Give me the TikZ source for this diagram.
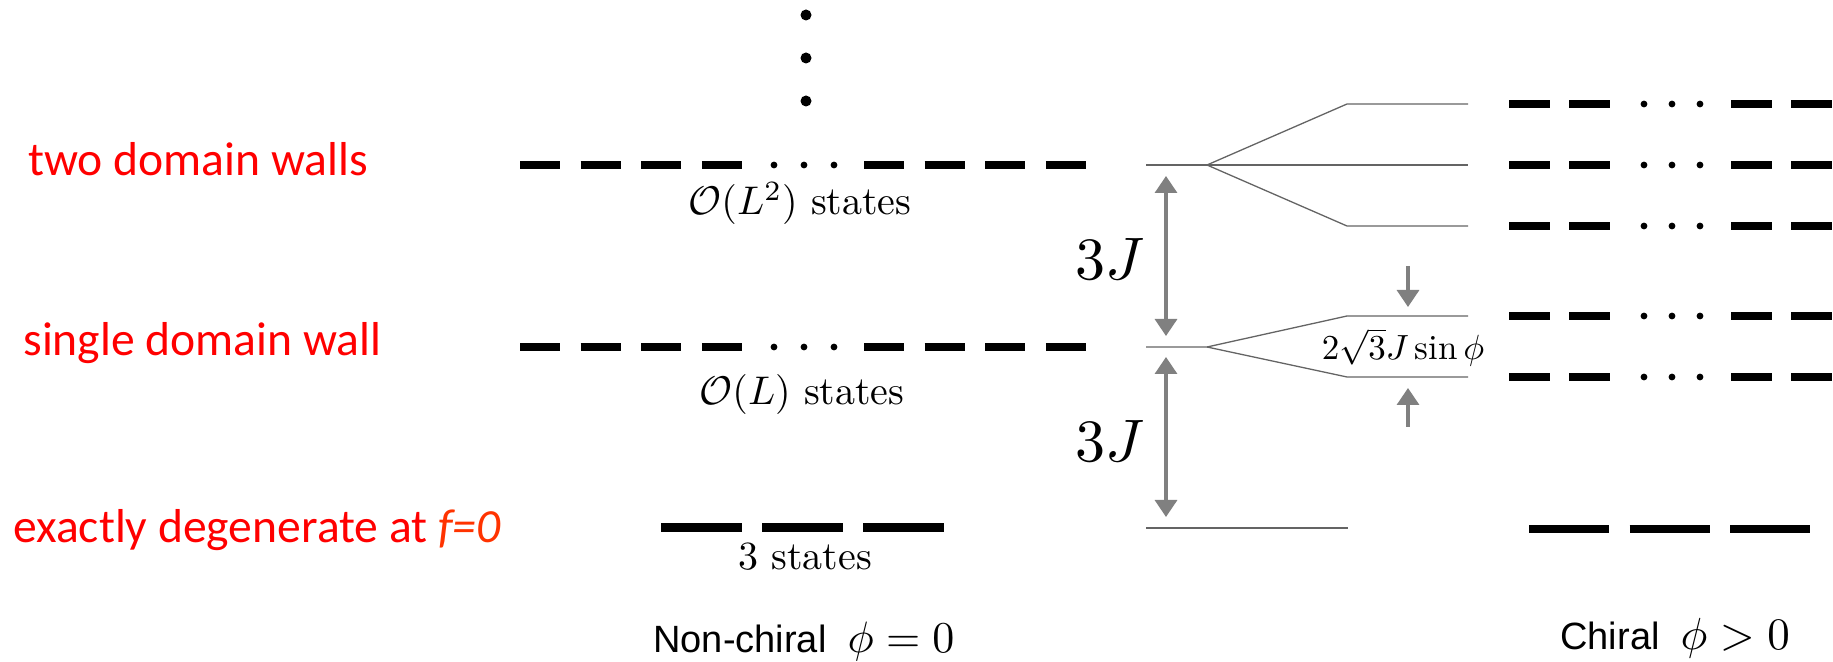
\documentclass[tikz,border=0pt]{standalone}
\usepackage{graphicx}
\usepackage{fontspec}
\newfontfamily\calibri{Carlito}
\newfontfamily\arial{Liberation Sans}
\usetikzlibrary{arrows.meta}

\definecolor{labelred}{RGB}{255,0,0}
\definecolor{fred}{RGB}{255,51,0}
\definecolor{arrowgray}{RGB}{128,128,128}
\definecolor{linegray}{RGB}{100,100,100}

\tikzset{
  >={Triangle[width=11pt,length=8.5pt]},
  level/.style={line width=4pt},
  thinlevel/.style={draw=linegray, line width=0.65pt},
  gaparrow/.style={draw=arrowgray, fill=arrowgray, line width=1.65pt},
  sector/.style={text=labelred, font=\calibri\fontsize{23.8}{28}\selectfont, inner sep=0pt, anchor=base west},
  count/.style={scale=2, inner sep=0pt, anchor=base},
}

\begin{document}
\begin{tikzpicture}[x=0.5pt,y=-0.5pt]
    \useasboundingbox (0,0) rectangle (1833,662);

    % sector labels
    \node[sector] (twowalls) at (28,176) {two domain walls};
    \node[sector] (onewall) at (23,356) {single domain wall};
    \node[sector] (groundlab) at (13,543) {exactly degenerate at {\itshape\color{fred}f=0}};

    % non-chiral levels
    \foreach \y in {15,58,101} \fill (806,\y) circle[radius=2.75pt];
    \foreach \y in {165,347} {
        \draw[level, dash pattern=on 20pt off 10.33pt] (520,\y) -- (742,\y);
        \draw[level, dash pattern=on 20pt off 10.33pt] (864,\y) -- (1086,\y);
        \foreach \x in {774,804,834} \fill (\x,\y) circle[radius=1.7pt];
    }
    \draw[level, line width=4.5pt, dash pattern=on 40.5pt off 10pt] (661,528) -- (944,528);

    \node[count] (twocount) at (800,215) {$\mathcal{O}(L^2)$ states};
    \node[count] (onecount) at (802,405) {$\mathcal{O}(L)$ states};
    \node[count] (groundcount) at (805,570) {3 states};

    % splitting
    \coordinate (tw0) at (1146,165);
    \coordinate (twfork) at (1207,165);
    \coordinate (twup) at (1347,104);
    \coordinate (twupend) at (1468,104);
    \coordinate (twmid) at (1468,165);
    \coordinate (twlow) at (1347,226);
    \coordinate (twlowend) at (1468,226);
    \coordinate (sw0) at (1146,347);
    \coordinate (swfork) at (1207,347);
    \coordinate (swup) at (1347,316);
    \coordinate (swupend) at (1468,316);
    \coordinate (swlow) at (1347,377);
    \coordinate (swlowend) at (1468,377);
    \coordinate (gs0) at (1146,528);
    \coordinate (gs1) at (1348,528);

    \draw[thinlevel] (tw0) -- (twmid);
    \draw[thinlevel] (twfork) -- (twup) -- (twupend);
    \draw[thinlevel] (twfork) -- (twlow) -- (twlowend);
    \draw[thinlevel] (sw0) -- (swfork) -- (swup) -- (swupend);
    \draw[thinlevel] (swfork) -- (swlow) -- (swlowend);
    \draw[thinlevel] (gs0) -- (gs1);

    % gaps
    \coordinate (gapAtop) at (1166,176);
    \coordinate (gapAbot) at (1166,336);
    \coordinate (gapBtop) at (1166,357);
    \coordinate (gapBbot) at (1166,517);
    \draw[gaparrow, <->] (gapAtop) -- (gapAbot);
    \draw[gaparrow, <->] (gapBtop) -- (gapBbot);
    \node[scale=3, inner sep=0pt, anchor=base east] (gapAlab) at (1146,280) {$3J$};
    \node[scale=3, inner sep=0pt, anchor=base east] (gapBlab) at (1146,462) {$3J$};

    \coordinate (splitTtail) at (1408,266);
    \coordinate (splitTtip) at (1408,307);
    \coordinate (splitBtail) at (1408,427);
    \coordinate (splitBtip) at (1408,388);
    \draw[gaparrow, ->] (splitTtail) -- (splitTtip);
    \draw[gaparrow, ->] (splitBtail) -- (splitBtip);
    \node[scale=1.75, inner sep=0pt, anchor=base] (splitlab) at (1403,360) {$2\sqrt{3}J\sin\phi$};

    % chiral levels
    \foreach \y in {104,165,226,316,377} {
        \draw[level, dash pattern=on 20.5pt off 9.5pt] (1509,\y) -- (1610,\y);
        \draw[level, dash pattern=on 20.5pt off 9.5pt] (1731,\y) -- (1833,\y);
        \foreach \x in {1644,1672,1700} \fill (\x,\y) circle[radius=1.7pt];
    }
    \draw[level, dash pattern=on 40pt off 10.25pt] (1529,529) -- (1811,529);

    % column titles
    \node[inner sep=0pt, anchor=base west] (nonchiral) at (653,653)
        {{\arial\fontsize{19}{23}\selectfont Non-chiral}\hspace{10.5pt}\scalebox{2.2}{$\phi=0$}};
    \node[inner sep=0pt, anchor=base west] (chiral) at (1560,650)
        {{\arial\fontsize{19}{23}\selectfont Chiral}\hspace{10.5pt}\scalebox{2.25}{$\phi>0$}};
\end{tikzpicture}
\end{document}
